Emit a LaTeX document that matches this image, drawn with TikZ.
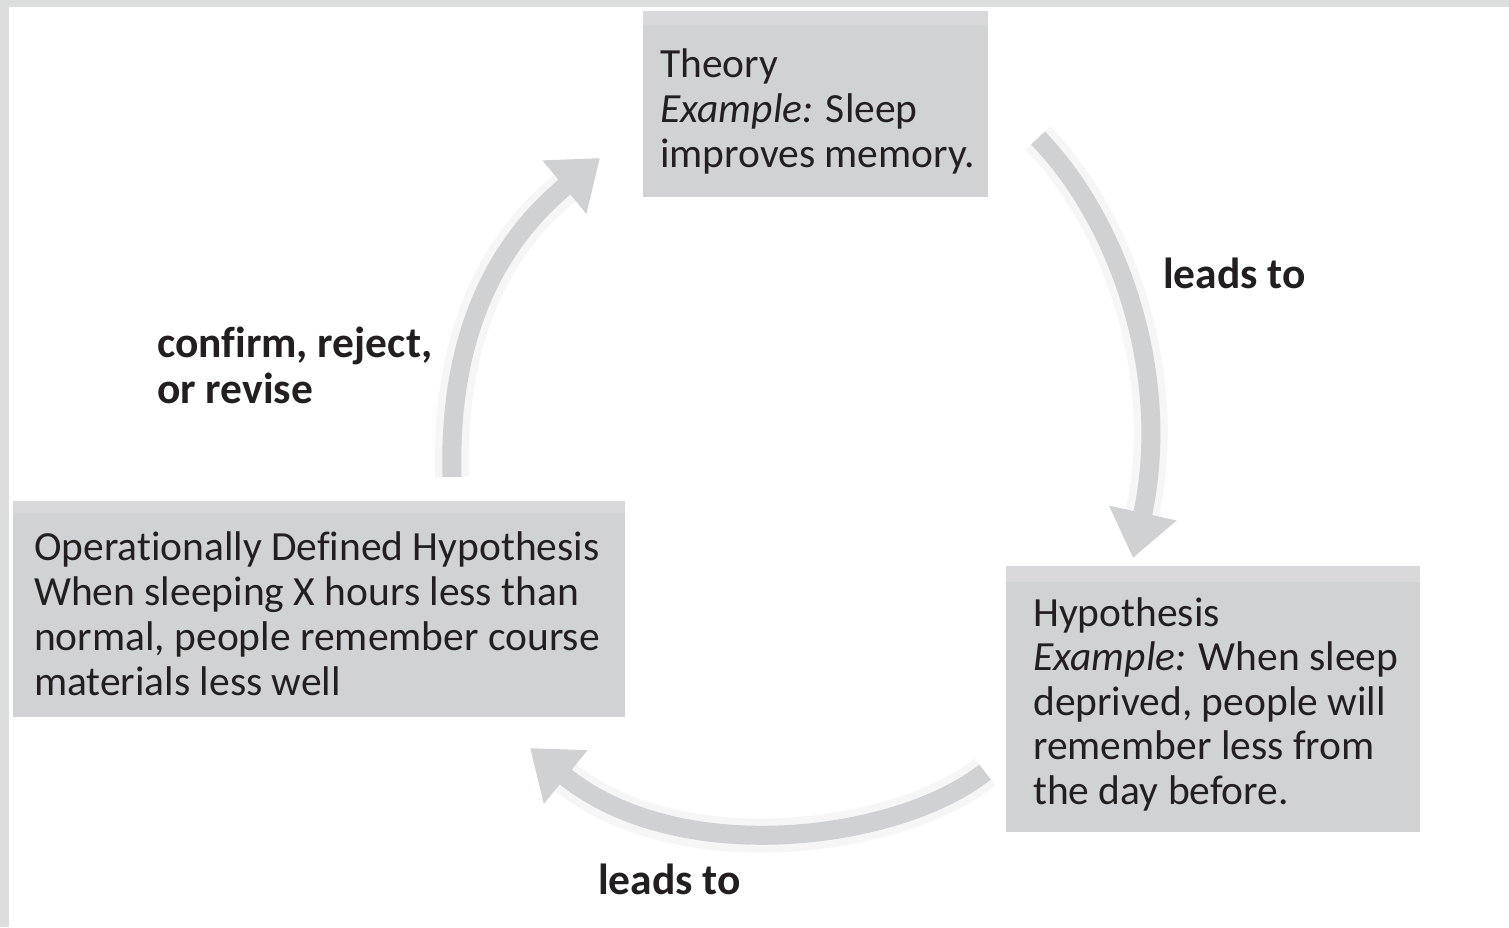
\documentclass[tikz,border=0pt]{standalone}
\usepackage{fontspec}
\setmainfont{Carlito}[Ligatures=NoCommon]
\usetikzlibrary{arrows.meta}
\definecolor{boxgray}{HTML}{D1D2D4}
\definecolor{boxtop}{HTML}{D9D9DB}
\definecolor{arrowgray}{HTML}{D0D1D3}
\definecolor{txt}{HTML}{231F20}
\definecolor{edgegray}{HTML}{DCDEDE}
\definecolor{halogray}{HTML}{F6F6F7}
\tikzset{
  boxfill/.style={fill=boxgray, draw=none, inner sep=0pt, anchor=north west},
  boxband/.style={fill=boxtop, draw=none},
  boxtext/.style={anchor=base west, inner sep=0pt, align=left, text=txt,
    font=\fontsize{41.5}{45}\selectfont},
  lbl/.style={anchor=base west, inner sep=0pt, align=left, text=txt,
    font=\fontsize{43.5}{46}\selectfont\bfseries},
  cyc/.style={draw=arrowgray, line width=19pt,
    -{Triangle[length=46pt, width=66pt, fill=arrowgray]}},
  halo/.style={draw=halogray, line width=34pt}
}
\begin{document}
\begin{tikzpicture}[x=1pt, y=-1pt]
\useasboundingbox (0,0) rectangle (1509,927);
\fill[white] (0,0) rectangle (1509,927);
% screenshot edges
\fill[edgegray] (0,0) rectangle (9,927);
\fill[edgegray] (0,0) rectangle (1509,7);

% coordinates for arrows
\coordinate (a1s) at (1038,138);
\coordinate (a1e) at (1133,558);
\coordinate (a2s) at (985,772);
\coordinate (a2e) at (530,748);
\coordinate (a3s) at (452,477);
\coordinate (a3e) at (600,158);

% soft halos
\draw[halo] (a1s) .. controls (1122,225) and (1172,380) .. (1142,515);
\draw[halo] (a2s) .. controls (900,840) and (680,870) .. (565,777);
\draw[halo] (a3s) .. controls (448,330) and (500,240) .. (565,188);

% boxes
\node[boxfill, minimum width=345pt, minimum height=186pt] (theory) at (643,11) {};
\fill[boxband] (643,11) rectangle (988,25);
\node[boxfill, minimum width=612pt, minimum height=216pt] (ophyp) at (13,501) {};
\fill[boxband] (13,501) rectangle (625,513);
\node[boxfill, minimum width=414pt, minimum height=266pt] (hyp) at (1006,566) {};
\fill[boxband] (1006,566) rectangle (1420,582);

% box texts (base anchor = baseline of last line)
\node[boxtext] (theorytxt) at (660,167) {Theory\\\textit{Example:} Sleep\\improves memory.};
\node[boxtext] (ophyptxt) at (34,695) {Operationally Defined Hypothesis\\When sleeping X hours less than\\normal, people remember course\\materials less well};
\node[boxtext, font=\fontsize{41.5}{44.5}\selectfont] (hyptxt) at (1033,804) {Hypothesis\\\textit{Example:} When sleep\\deprived, people will\\remember less from\\the day before.};

% arrows
\draw[cyc] (a1s) .. controls (1122,225) and (1172,380) .. (a1e);
\draw[cyc] (a2s) .. controls (900,840) and (680,870) .. (a2e);
\draw[cyc] (a3s) .. controls (448,330) and (500,240) .. (a3e);

% labels
\node[lbl] (l1) at (1163,288) {leads to};
\node[lbl] (l2) at (598,894) {leads to};
\node[lbl] (l3) at (157,403) {confirm, reject,\\or revise};
\end{tikzpicture}
\end{document}
